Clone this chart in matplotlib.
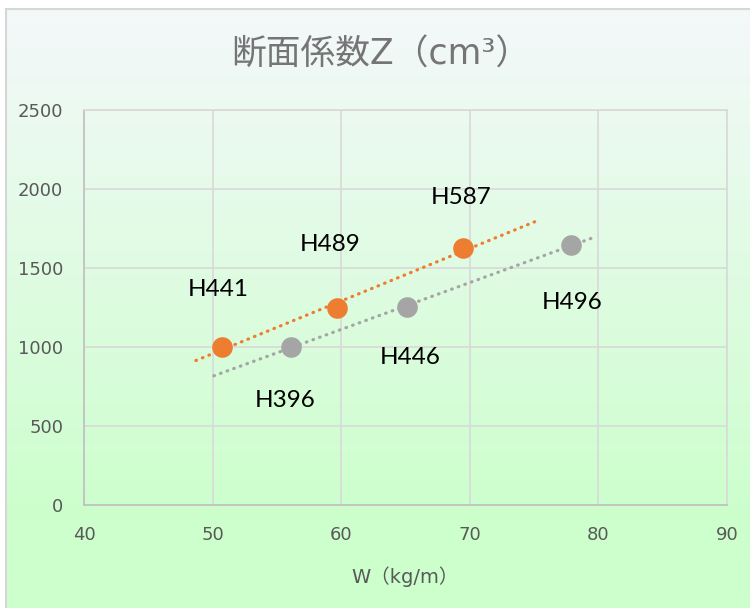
import matplotlib.pyplot as plt
import numpy as np

# データ
w_orange = [50.7, 59.7, 69.5]
z_orange = [1000, 1245, 1625]
lab_orange = ["H441", "H489", "H587"]

w_gray = [56.1, 65.1, 77.9]
z_gray = [1000, 1255, 1645]
lab_gray = ["H396", "H446", "H496"]

x_ticks = [40, 50, 60, 70, 80, 90]
y_ticks = [0, 500, 1000, 1500, 2000, 2500]

plt.rcParams['font.family'] = ['DejaVu Sans', 'Noto Sans CJK JP']

fig = plt.figure(figsize=(7.5, 6.08), dpi=100)

# 背景グラデーション
bg = fig.add_axes([6 / 750, 0, 1 - 6 / 750, 1 - 9 / 608])
t = np.linspace(0, 1, 300)
t = np.clip(t / 0.85, 0, 1)
top = np.array([244, 248, 250]) / 255
bot = np.array([204, 255, 204]) / 255
grad = top[None, :] * (1 - t[:, None]) + bot[None, :] * t[:, None]
bg.imshow(grad[:, None, :], aspect='auto', extent=[0, 1, 0, 1])
bg.set_xlim(0, 1)
bg.set_ylim(0, 1)
bg.axis('off')
fig.add_artist(plt.Line2D([6 / 750, 6 / 750], [0, 1 - 9 / 608], color='#d6d6d6', lw=1.5))
fig.add_artist(plt.Line2D([6 / 750, 1], [1 - 9 / 608, 1 - 9 / 608], color='#d6d6d6', lw=1.5))

ax = fig.add_axes([84 / 750, 103 / 608, 643 / 750, 395 / 608])
ax.set_facecolor('none')

# 近似曲線
def trend(x, y, back, fwd, color):
    k, b = np.polyfit(x, y, 1)
    xs = np.array([min(x) - back, max(x) + fwd])
    ax.plot(xs, k * xs + b, color=color, lw=2.3, linestyle=(0, (0.2, 2.0)),
            dash_capstyle='round', zorder=2)

trend(w_orange, z_orange, 2, 6, '#ed7d31')
trend(w_gray, z_gray, 6, 1.7, '#a5a5a5')

ax.scatter(w_orange, z_orange, s=220, color='#ed7d31', zorder=3, linewidths=0)
ax.scatter(w_gray, z_gray, s=220, color='#a5a5a5', zorder=3, linewidths=0)

off_orange = [(-3, 57), (-7, 64), (-2, 51)]
off_gray = [(-6, -54), (3, -51), (1, -57)]
for x, y, s, o in zip(w_orange, z_orange, lab_orange, off_orange):
    ax.annotate(s, (x, y), xytext=o, textcoords='offset pixels', ha='center', va='center',
                fontsize=17.5, family=['Lato', 'DejaVu Sans'], color='black')
for x, y, s, o in zip(w_gray, z_gray, lab_gray, off_gray):
    ax.annotate(s, (x, y), xytext=o, textcoords='offset pixels', ha='center', va='center',
                fontsize=17.5, family=['Lato', 'DejaVu Sans'], color='black')

ax.set_xlim(40, 90)
ax.set_ylim(0, 2500)
ax.set_xticks(x_ticks)
ax.set_yticks(y_ticks)
ax.grid(True, color='#d9d9d9', lw=1.2)
ax.set_axisbelow(True)
for sp in ax.spines.values():
    sp.set_color('#d9d9d9')
    sp.set_linewidth(1.2)
ax.spines['left'].set_color('#bfbfbf')
ax.spines['bottom'].set_color('#bfbfbf')
ax.tick_params(length=0, pad=15, labelsize=13, labelcolor='#595959')

ax.set_xlabel('W（kg/m）', fontsize=14, color='#595959', labelpad=16)
fig.text(0.508, 1 - 55 / 608, '断面係数Z（cm³）', fontsize=25, color='#757575',
         ha='center', va='center')

fig.savefig('out.png', dpi=100)
